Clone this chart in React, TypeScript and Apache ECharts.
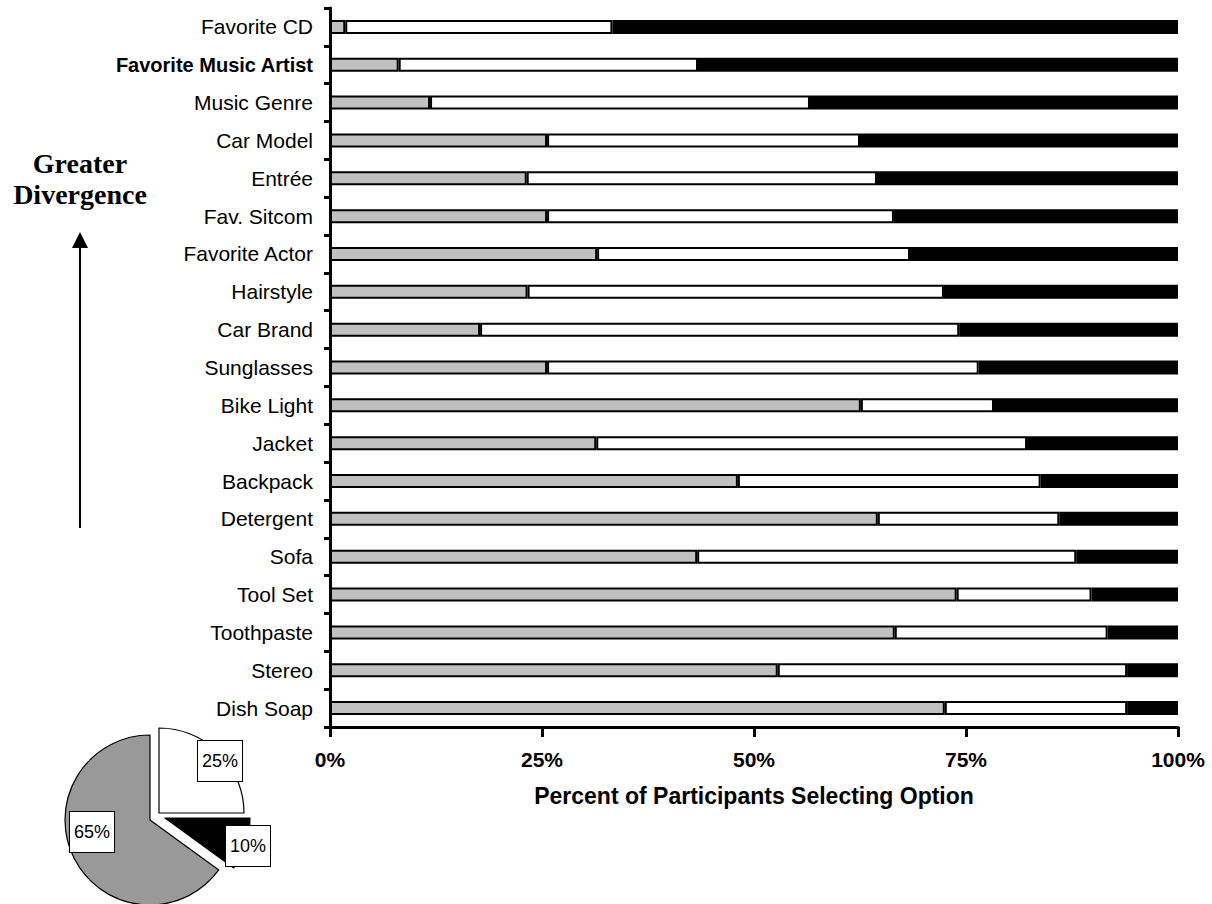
import React, { useEffect, useRef } from "react";
import * as echarts from "echarts";

const categories = [
  "Favorite CD",
  "Favorite Music Artist",
  "Music Genre",
  "Car Model",
  "Entrée",
  "Fav. Sitcom",
  "Favorite Actor",
  "Hairstyle",
  "Car Brand",
  "Sunglasses",
  "Bike Light",
  "Jacket",
  "Backpack",
  "Detergent",
  "Sofa",
  "Tool Set",
  "Toothpaste",
  "Stereo",
  "Dish Soap",
];

const grayValues = [1.8, 8.1, 11.8, 25.6, 23.2, 25.6, 31.5, 23.3, 17.7, 25.6, 62.6, 31.4, 48.1, 64.6, 43.3, 73.9, 66.6, 52.8, 72.5];
const whiteValues = [31.5, 35.3, 44.8, 36.9, 41.3, 40.9, 36.9, 49.1, 56.5, 50.9, 15.7, 50.8, 35.7, 21.4, 44.7, 15.9, 25.1, 41.2, 21.5];
const blackValues = [66.7, 56.6, 43.4, 37.5, 35.5, 33.5, 31.6, 27.6, 25.8, 23.5, 21.7, 17.8, 16.2, 14.0, 12.0, 10.2, 8.3, 6.0, 6.0];

const xTicks = [0, 25, 50, 75, 100];

const pieNames = ["white", "black", "gray"];
const pieValues = [25, 10, 65];
const pieLabels = ["25%", "10%", "65%"];

export default function App() {
  const ref = useRef<HTMLDivElement>(null);

  useEffect(() => {
    if (!ref.current) return;
    const chart = echarts.init(ref.current, null, { renderer: "svg" });

    const barColors = ["#c0c0c0", "#ffffff", "#000000"];
    const barData = [grayValues, whiteValues, blackValues];
    const barNames = ["Option A", "Option B", "Option C"];

    const barSeries = barData.map((vals, i) => ({
      type: "bar",
      name: barNames[i],
      stack: "total",
      data: vals,
      barWidth: 14,
      itemStyle: { color: barColors[i], borderColor: "#000", borderWidth: 2 },
      emphasis: { disabled: true },
    }));

    const pieColors = ["#ffffff", "#000000", "#999999"];
    const pieCenters = [
      [159, 813],
      [165, 818],
      [150, 820],
    ];
    const labelPos = [
      [220, 761],
      [248, 846],
      [92, 832],
    ];

    const pieSeries = pieNames.map((_, k) => ({
      type: "pie",
      center: pieCenters[k],
      radius: 85,
      startAngle: 90,
      clockwise: true,
      silent: true,
      z: 5 + k,
      labelLine: { show: false },
      labelLayout: () => ({
        x: labelPos[k][0],
        y: labelPos[k][1],
        align: "center",
        verticalAlign: "middle",
      }),
      data: pieValues.map((v, j) => ({
        name: pieNames[j],
        value: v,
        itemStyle:
          j === k
            ? { color: pieColors[j], borderColor: "#000", borderWidth: 1.2 }
            : { color: "transparent", borderWidth: 0 },
        label:
          j === k
            ? {
                show: true,
                position: "inside",
                formatter: pieLabels[j],
                fontFamily: "Liberation Sans",
                fontSize: 18,
                color: "#000",
                backgroundColor: "#fff",
                borderColor: "#000",
                borderWidth: 1,
                padding: [11, 4],
                align: "center",
                verticalAlign: "middle",
              }
            : { show: false },
      })),
    }));

    chart.setOption({
      animation: false,
      backgroundColor: "#fff",
      grid: { left: 330, right: 34, top: 8, bottom: 177, containLabel: false },
      xAxis: {
        type: "value",
        min: xTicks[0],
        max: xTicks[xTicks.length - 1],
        interval: 25,
        axisLine: { show: true, lineStyle: { color: "#000", width: 3 } },
        axisTick: { show: true, length: 10, lineStyle: { color: "#000", width: 3 } },
        splitLine: { show: false },
        axisLabel: {
          formatter: "{value}%",
          fontFamily: "Liberation Sans",
          fontWeight: "bold",
          fontSize: 21,
          color: "#000",
          margin: 22,
        },
        name: "Percent of Participants Selecting Option",
        nameLocation: "middle",
        nameGap: 57,
        nameTextStyle: {
          fontFamily: "Liberation Sans",
          fontWeight: "bold",
          fontSize: 23,
          color: "#000",
        },
      },
      yAxis: {
        type: "category",
        data: categories,
        inverse: true,
        axisLine: { show: true, lineStyle: { color: "#000", width: 3 } },
        axisTick: { show: true, length: 6, lineStyle: { color: "#000", width: 3 } },
        splitLine: { show: false },
        axisLabel: {
          fontFamily: "Liberation Sans",
          fontSize: 21,
          color: "#000",
          margin: 17,
          formatter: (v: string) => (v === "Favorite Music Artist" ? `{b|${v}}` : v),
          rich: {
            b: {
              fontFamily: "Liberation Sans",
              fontWeight: "bold",
              fontSize: 20,
              color: "#000",
            },
          },
        },
      },
      series: [...barSeries, ...pieSeries],
      graphic: [
        {
          type: "text",
          x: 80,
          y: 163,
          style: {
            text: "Greater",
            fontFamily: "Liberation Serif",
            fontWeight: "bold",
            fontSize: 28,
            fill: "#000",
            align: "center",
            verticalAlign: "middle",
          },
        },
        {
          type: "text",
          x: 80,
          y: 194,
          style: {
            text: "Divergence",
            fontFamily: "Liberation Serif",
            fontWeight: "bold",
            fontSize: 28,
            fill: "#000",
            align: "center",
            verticalAlign: "middle",
          },
        },
        {
          type: "line",
          shape: { x1: 80, y1: 528, x2: 80, y2: 242 },
          style: { stroke: "#000", lineWidth: 2 },
        },
        {
          type: "polygon",
          shape: { points: [[72, 248], [88, 248], [80, 232]] },
          style: { fill: "#000" },
        },
      ],
    });

    return () => chart.dispose();
  }, []);

  return (
    <div
      ref={ref}
      style={{ position: "fixed", left: 0, top: 0, width: 1212, height: 904, background: "#fff" }}
    />
  );
}
